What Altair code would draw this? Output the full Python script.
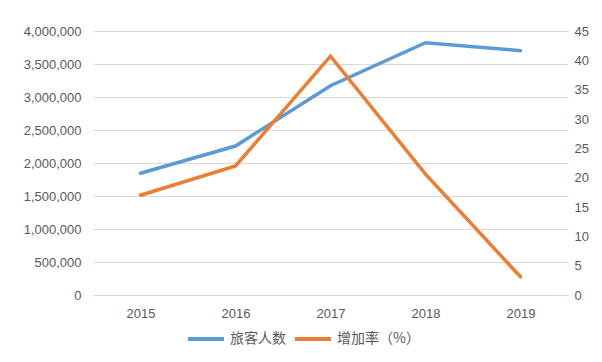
import altair as alt
import pandas as pd

years = ["2015", "2016", "2017", "2018", "2019"]
passengers = [1844000, 2257000, 3171000, 3823000, 3702000]
growth = [17.0, 22.0, 40.7, 20.6, 3.1]
series = ["旅客人数", "增加率（%）"]
colors = ["#5B9BD5", "#ED7D31"]
left_ticks = [0, 500000, 1000000, 1500000, 2000000, 2500000, 3000000, 3500000, 4000000]
right_ticks = [0, 5, 10, 15, 20, 25, 30, 35, 40, 45]

df1 = pd.DataFrame({"year": years, "value": passengers, "series": series[0]})
df2 = pd.DataFrame({"year": years, "value": growth, "series": series[1]})

FONT = "Liberation Sans"
LABEL = "#595959"
GRID = "#D9D9D9"

color = alt.Color(
    "series:N",
    scale=alt.Scale(domain=series, range=colors),
    legend=alt.Legend(
        title=None,
        orient="none",
        legendX=93,
        legendY=288,
        direction="horizontal",
        symbolType="stroke",
        symbolSize=1296,
        symbolStrokeWidth=4,
        labelFont="Noto Sans CJK SC",
        labelFontSize=14,
        labelColor=LABEL,
        labelOffset=4,
        columnPadding=1,
    ),
)

x = alt.X(
    "year:O",
    axis=alt.Axis(
        title=None,
        labelAngle=0,
        ticks=False,
        domainColor=GRID,
        labelPadding=12,
        labelFont=FONT,
        labelFontSize=13,
        labelColor=LABEL,
    ),
)

left = alt.Chart(df1).mark_line(strokeWidth=3.5, strokeCap="round").encode(
    x=x,
    y=alt.Y(
        "value:Q",
        scale=alt.Scale(domain=[0, 4000000], nice=False),
        axis=alt.Axis(
            title=None,
            orient="left",
            values=left_ticks,
            format=",.0f",
            grid=True,
            gridColor=GRID,
            ticks=False,
            domain=False,
            labelPadding=12,
            labelFont=FONT,
            labelFontSize=13,
            labelColor=LABEL,
        ),
    ),
    color=color,
)

right = alt.Chart(df2).mark_line(strokeWidth=3.5, strokeCap="round").encode(
    x=x,
    y=alt.Y(
        "value:Q",
        scale=alt.Scale(domain=[0, 45], nice=False),
        axis=alt.Axis(
            title=None,
            orient="right",
            values=right_ticks,
            grid=False,
            ticks=False,
            domain=False,
            labelPadding=6,
            labelFont=FONT,
            labelFontSize=13,
            labelColor=LABEL,
        ),
    ),
    color=color,
)

chart = (
    alt.layer(left, right)
    .resolve_scale(y="independent")
    .properties(
        width=475,
        height=264,
        autosize="none",
        padding={"left": 85, "top": 23, "right": 26, "bottom": 60},
        background="white",
    )
    .configure_view(stroke=None)
)

chart.save("out.html", embed_options={"renderer": "svg", "actions": False})
